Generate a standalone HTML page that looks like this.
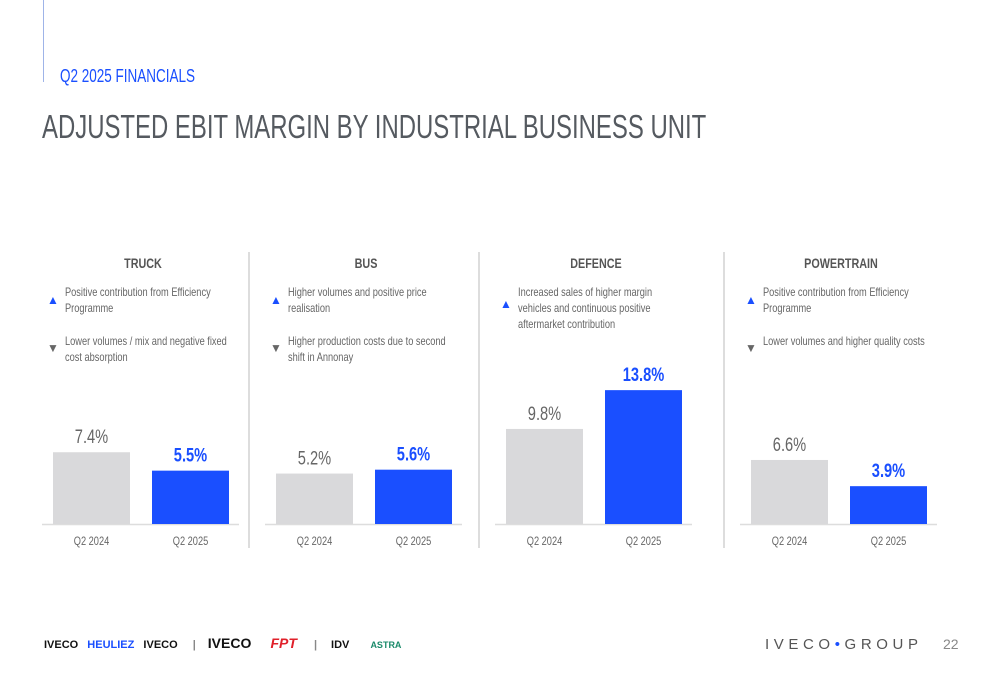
<!DOCTYPE html>
<html><head><meta charset="utf-8"><style>
body{margin:0;width:1000px;height:685px;background:#fff;overflow:hidden;position:relative;font-family:"Liberation Sans",sans-serif;}
.a{position:absolute;white-space:nowrap;}
.n{transform:scaleX(0.75);transform-origin:0 0;}
</style></head><body>
<div class="a" style="left:43px;top:0;width:1px;height:82px;background:#9fb4e8"></div>
<div class="a n" style="left:60px;top:66px;font-size:18px;color:#1a4fff">Q2 2025 FINANCIALS</div>
<div class="a n" style="left:42px;top:108px;font-size:33px;color:#555a60;transform:scaleX(0.725)">ADJUSTED EBIT MARGIN BY INDUSTRIAL BUSINESS UNIT</div>
<svg id="chart" class="a" style="left:0;top:0" width="1000" height="685"></svg>
<div class="a" style="left:44px;top:635px;font-weight:bold;font-size:11px">
<span style="color:#111">IVECO</span> <span style="color:#1a4fff;margin-left:6px">HEULIEZ</span> <span style="color:#111;margin-left:6px">IVECO</span> <span style="color:#888;margin:0 12px">|</span><span style="color:#111;font-size:14px">IVECO</span> <span style="color:#e0202a;font-style:italic;font-size:14px;margin-left:16px">FPT</span> <span style="color:#888;margin:0 14px">|</span><span style="color:#111">IDV</span> <span style="color:#1a8a6a;margin-left:18px;font-size:9px">ASTRA</span></div>
<div class="a" style="left:765px;top:636px;font-size:15px;letter-spacing:4.6px;color:#555">IVECO<span style="color:#1a4fff">•</span>GROUP</div>
<div class="a" style="left:943px;top:636px;font-size:14px;color:#888">22</div>
<script>
const units=["TRUCK","BUS","DEFENCE","POWERTRAIN"];
const prior=[7.4,5.2,9.8,6.6];
const current=[5.5,5.6,13.8,3.9];
const periods=["Q2 2024","Q2 2025"];
const upText=[["Positive contribution from Efficiency","Programme"],["Higher volumes and positive price","realisation"],["Increased sales of higher margin","vehicles and continuous positive","aftermarket contribution"],["Positive contribution from Efficiency","Programme"]];
const downText=[["Lower volumes / mix and negative fixed","cost absorption"],["Higher production costs due to second","shift in Annonay"],[],["Lower volumes and higher quality costs"]];
const svg=document.getElementById('chart');const NS="http://www.w3.org/2000/svg";
function mk(t,a,txt){const e=document.createElementNS(NS,t);for(const k in a)e.setAttribute(k,a[k]);if(txt!==undefined)e.textContent=txt;svg.appendChild(e);return e;}
const base=524,scale=9.7;
const y=v=>base-v*scale;
const panelX=[42,265,495,740];
const FF='"Liberation Sans",sans-serif';
units.forEach((u,i)=>{
 const px=panelX[i];
 if(i>0){const d=mk('line',{x1:px-16,x2:px-16,y1:252,y2:548,stroke:'#bbb','stroke-width':1});}
 const t=mk('text',{x:px+101,y:268,'text-anchor':'middle','font-size':14,'font-weight':'bold',fill:'#555','font-family':FF},u);
 
 const tx=px+23;
 const upY=296;const off=(upText[i].length-2)*8;
 const ut=mk('text',{x:px+5,y:upY+8+off/2,'font-size':12,fill:'#1a4fff','font-family':FF},'▲');
 
 upText[i].forEach((l,j)=>{const e=mk('text',{x:tx,y:upY+j*16,'font-size':12,fill:'#666','font-family':FF},l);});
 if(downText[i].length){
  const dt=mk('text',{x:px+5,y:352,'font-size':12,fill:'#666','font-family':FF},'▼');
  
  downText[i].forEach((l,j)=>{const e=mk('text',{x:tx,y:345+j*16,'font-size':12,fill:'#666','font-family':FF},l);});
 }
 const ax=mk('line',{x1:px,x2:px+197,y1:base+0.5,y2:base+0.5,stroke:'#ddd','stroke-width':1.5});
 
 [prior[i],current[i]].forEach((v,k)=>{
  const bx=px+11+k*99;
  const r=mk('rect',{x:bx,y:y(v),width:77,height:base-y(v),fill:k?'#1a4fff':'#d9d9db'});
  
  const l=mk('text',{x:bx+38.5,y:y(v)-9,'text-anchor':'middle','font-size':19,'font-weight':k?'bold':'normal',fill:k?'#1a4fff':'#666','font-family':FF},v.toFixed(1)+'%');
  
  const p=mk('text',{x:bx+38.5,y:545,'text-anchor':'middle','font-size':12,fill:'#666','font-family':FF},periods[k]);
  
 });
});
svg.querySelectorAll('text').forEach(t=>{
 if(t.textContent.length<2)return;
 const w=t.getComputedTextLength();
 t.setAttribute('textLength',(w*0.77).toFixed(1));
 t.setAttribute('lengthAdjust','spacingAndGlyphs');
});
</script>
</body></html>
